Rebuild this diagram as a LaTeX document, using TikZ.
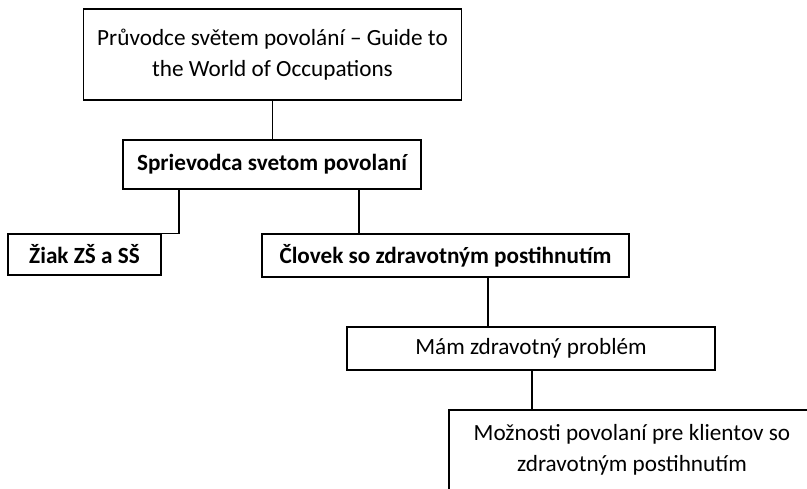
\documentclass[tikz,border=0pt]{standalone}
\usepackage{fontspec}
\setmainfont{Carlito}
\newcommand{\boxfont}{\fontsize{23.2}{31}\selectfont}

\begin{document}
\begin{tikzpicture}[x=1pt,y=-1pt,
  box/.style={draw, line width=1.3pt, inner sep=0pt, align=center, font=\boxfont},
  link/.style={line width=1.2pt}]

 \useasboundingbox (0,0) rectangle (807,488);
 \clip (0,0) rectangle (807,488);

 \node[box, minimum width=378, minimum height=91] (guide) at (272.5,54.5)
   {Průvodce světem povolání – Guide to\\the World of Occupations};
 \node[box, font=\boxfont\bfseries, minimum width=298, minimum height=49] (sprievodca) at (272,164.5)
   {Sprievodca svetom povolaní};
 \node[box, font=\boxfont\bfseries, minimum width=153, minimum height=41] (ziak) at (84.5,254.5)
   {Žiak ZŠ a SŠ};
 \node[box, font=\boxfont\bfseries, minimum width=367, minimum height=43] (clovek) at (445.5,255.5)
   {Človek so zdravotným postihnutím};
 \node[box, minimum width=368, minimum height=43] (problem) at (531,348.5)
   {Mám zdravotný problém};
 \node[box, minimum width=366, minimum height=80] (moznosti) at (632,450)
   {Možnosti povolaní pre klientov so\\zdravotným postihnutím};

 % connectors
 \draw[link] (guide.south) -- (guide.south |- sprievodca.north);
 \draw[link] (sprievodca.south -| 179,0) |- (ziak.north east);
 \draw[link] (sprievodca.south -| 359,0) -- (clovek.north -| 359,0);
 \draw[link] (clovek.south -| 488,0) -- (problem.north -| 488,0);
 \draw[link] (problem.south -| 532,0) -- (moznosti.north -| 532,0);

\end{tikzpicture}
\end{document}
